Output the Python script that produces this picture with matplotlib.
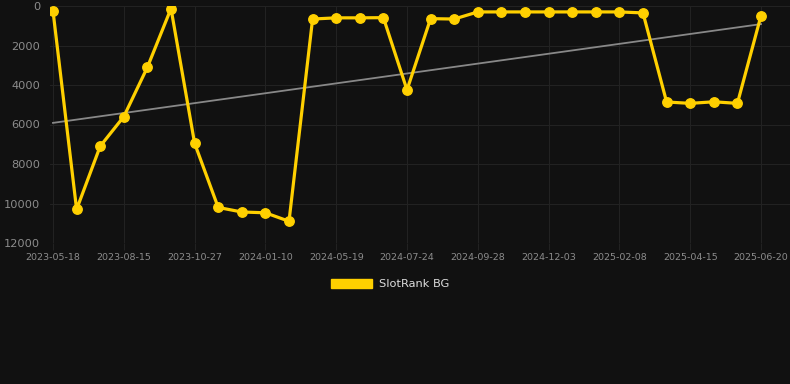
import matplotlib
matplotlib.use("Agg")
import matplotlib.pyplot as plt
from matplotlib.patches import Patch
import numpy as np

series_name = "SlotRank BG"
values = [250, 10300, 7100, 5600, 3100, 130, 6950, 10200, 10430, 10470, 10900,
          660, 600, 600, 590, 4250, 640, 660, 300, 300, 300, 300, 300, 300, 300,
          350, 4860, 4930, 4850, 4930, 490]
tick_labels = ["2023-05-18", "2023-08-15", "2023-10-27", "2024-01-10", "2024-05-19",
               "2024-07-24", "2024-09-28", "2024-12-03", "2025-02-08", "2025-04-15",
               "2025-06-20"]
y_ticks = [0, 2000, 4000, 6000, 8000, 10000, 12000]

BG = "#111111"
GRID = "#222222"
GOLD = "#FFD000"

W, H = 790, 384
fig = plt.figure(figsize=(W / 100, H / 100), dpi=100, facecolor=BG)
ax = fig.add_axes([50 / W, 1 - 243 / H, (790 - 50) / W, (243 - 6) / H], facecolor=BG)

x = np.arange(len(values))
coef = np.polyfit(x, values, 1)
ax.plot(x, np.polyval(coef, x), color="#888888", lw=1.3, zorder=2)
ax.plot(x, values, color=GOLD, lw=2.3, marker="o", markersize=6.8,
        markerfacecolor=GOLD, markeredgecolor=GOLD, zorder=3)

step = 23.6
ax.set_xlim(-3 / step, 30 + 29 / step)
ax.set_ylim(12000, 0)
ax.set_yticks(y_ticks)
ax.set_yticklabels([str(v) for v in y_ticks])
tick_pos = x[::3]
ax.set_xticks(tick_pos)
ax.set_xticklabels(tick_labels)

ax.grid(True, color=GRID, lw=0.8)
for s in ax.spines.values():
    s.set_visible(False)
ax.tick_params(axis="y", length=0, pad=7, labelsize=8.2, labelcolor="#8c8c8c")
ax.tick_params(axis="x", length=5, color=GRID, pad=2, labelsize=6.8, labelcolor="#8c8c8c")

leg = fig.legend(handles=[Patch(facecolor=GOLD, edgecolor=GOLD, label=series_name)],
                 loc="center", bbox_to_anchor=(390 / W, 1 - 284 / H), frameon=False,
                 handlelength=3.6, handleheight=0.9, handletextpad=0.6, fontsize=8.2)
for t in leg.get_texts():
    t.set_color("#dddddd")

fig.savefig("out.png", dpi=100, facecolor=BG)
